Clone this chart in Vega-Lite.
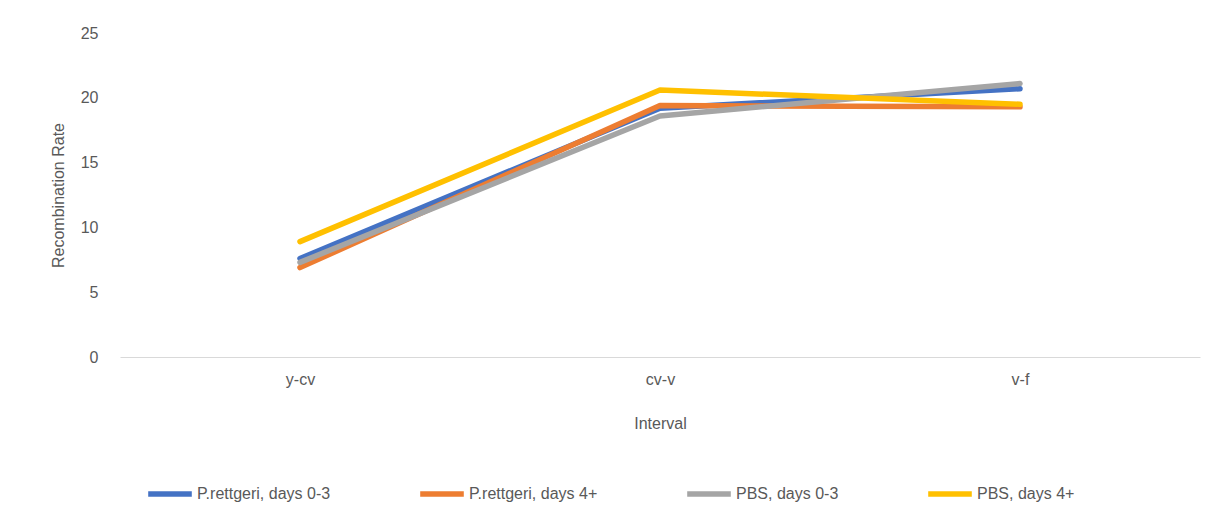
{
  "$schema": "https://vega.github.io/schema/vega-lite/v6.json",
  "autosize": {"type": "none"},
  "width": 1080,
  "height": 324,
  "padding": {"left": 120, "top": 33, "right": 22, "bottom": 172},
  "background": "white",
  "data": {
    "values": [
      {"interval": "y-cv", "series": "P.rettgeri, days 0-3", "rate": 7.6},
      {"interval": "cv-v", "series": "P.rettgeri, days 0-3", "rate": 19.2},
      {"interval": "v-f", "series": "P.rettgeri, days 0-3", "rate": 20.7},
      {"interval": "y-cv", "series": "P.rettgeri, days 4+", "rate": 6.9},
      {"interval": "cv-v", "series": "P.rettgeri, days 4+", "rate": 19.4},
      {"interval": "v-f", "series": "P.rettgeri, days 4+", "rate": 19.3},
      {"interval": "y-cv", "series": "PBS, days 0-3", "rate": 7.3},
      {"interval": "cv-v", "series": "PBS, days 0-3", "rate": 18.6},
      {"interval": "v-f", "series": "PBS, days 0-3", "rate": 21.1},
      {"interval": "y-cv", "series": "PBS, days 4+", "rate": 8.9},
      {"interval": "cv-v", "series": "PBS, days 4+", "rate": 20.6},
      {"interval": "v-f", "series": "PBS, days 4+", "rate": 19.5}
    ]
  },
  "mark": {"type": "line", "strokeWidth": 5.5, "strokeCap": "round", "strokeJoin": "round"},
  "encoding": {
    "x": {
      "field": "interval", "type": "ordinal", "sort": ["y-cv", "cv-v", "v-f"],
      "scale": {"type": "point", "padding": 0.5},
      "axis": {"title": "Interval", "labelAngle": 0, "ticks": false, "grid": false,
               "domainColor": "#d9d9d9", "labelPadding": 14, "titlePadding": 28}
    },
    "y": {
      "field": "rate", "type": "quantitative",
      "scale": {"domain": [0, 25]},
      "axis": {"title": "Recombination Rate", "values": [0, 5, 10, 15, 20, 25], "ticks": false,
               "domain": false, "grid": false, "labelPadding": 22, "titlePadding": 14}
    },
    "color": {
      "field": "series", "type": "nominal",
      "scale": {
        "domain": ["P.rettgeri, days 0-3", "P.rettgeri, days 4+", "PBS, days 0-3", "PBS, days 4+"],
        "range": ["#4472c4", "#ed7d31", "#a5a5a5", "#ffc000"]
      },
      "legend": {
        "title": null, "orient": "none", "direction": "horizontal",
        "legendX": 25, "legendY": 436,
        "symbolType": "stroke", "symbolSize": 1900, "symbolStrokeWidth": 5.5,
        "columnPadding": 78, "labelOffset": 2
      }
    }
  },
  "config": {
    "view": {"stroke": null},
    "font": "Liberation Sans",
    "axis": {"labelFont": "Liberation Sans", "titleFont": "Liberation Sans",
             "labelFontSize": 16, "titleFontSize": 16, "labelColor": "#595959",
             "titleColor": "#595959", "titleFontWeight": "normal"},
    "legend": {"labelFont": "Liberation Sans", "labelFontSize": 16, "labelColor": "#595959", "labelLimit": 300}
  }
}
